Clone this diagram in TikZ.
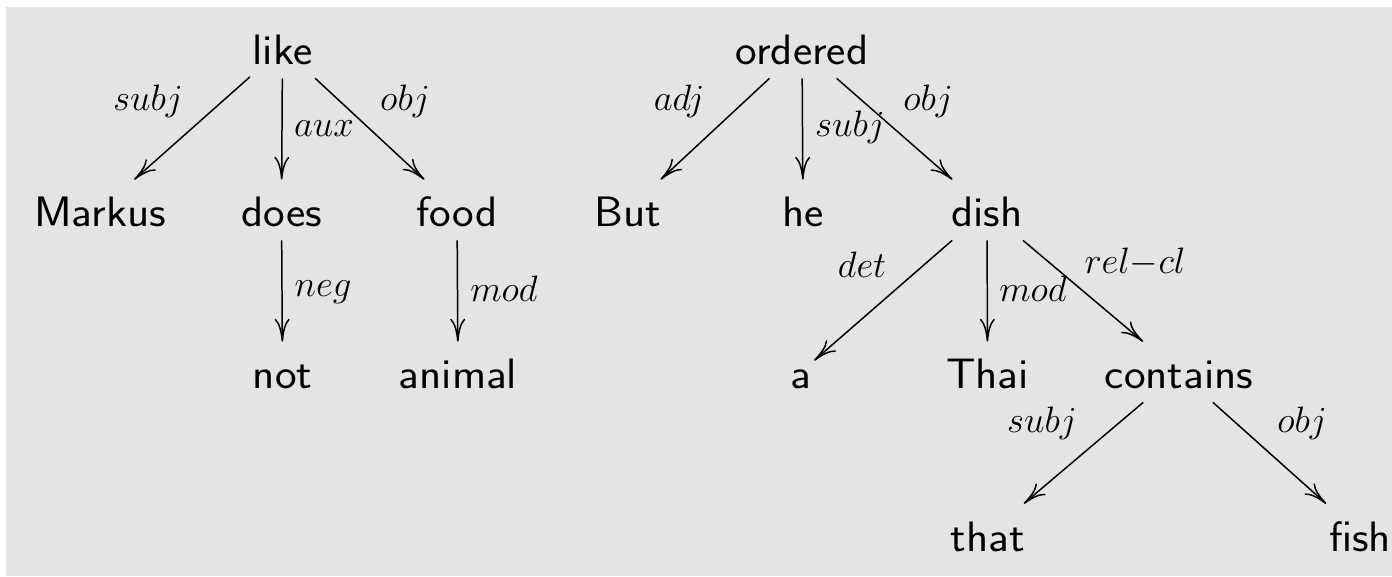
\RequirePackage{fix-cm}
\documentclass[tikz,border=0pt]{standalone}
\usepackage{amsmath}
\usepackage{fontspec}
\newfontfamily\wordfont[FakeStretch=1.08]{Latin Modern Sans}
\usepackage{tikz}
\usetikzlibrary{arrows.meta}
\definecolor{bggray}{RGB}{228,228,228}

\begin{document}
\begin{tikzpicture}[word/.style={anchor=base, inner sep=0.05cm, text height=0.89cm, text depth=0.21cm, font=\wordfont\fontsize{24.2}{29}\selectfont},
  lab/.style={anchor=base, inner sep=0pt, font=\fontsize{20.9}{24}\selectfont},
  dep/.style={-{To[length=13pt,width=8.5pt]}, line width=0.85pt}]
\useasboundingbox (0,0) rectangle (27.84,11.52);
\fill [bggray] (0.12,0) rectangle (27.84,11.38);

% first tree
\node [word] (like) at (5.65,10.22) {like};
\node [word] (markus) at (2.0,6.98) {Markus};
\node [word] (does) at (5.63,6.98) {does};
\node [word] (food) at (9.14,6.98) {food};
\node [word] (not) at (5.65,3.74) {not};
\node [word] (animal) at (9.16,3.74) {animal};

\draw [dep] (like) -- (markus);
\draw [dep] (like) -- (does);
\draw [dep] (like) -- (food);
\draw [dep] (does) -- (not);
\draw [dep] (food) -- (animal);

\node [lab] (l-subj) at (2.96,9.30) {$subj$};
\node [lab] (l-aux) at (6.48,8.78) {$aux$};
\node [lab] (l-obj) at (8.10,9.30) {$obj$};
\node [lab] (l-neg) at (6.46,5.58) {$neg$};
\node [lab] (l-mod) at (10.08,5.48) {$mod$};

% second tree
\node [word] (ordered) at (16.04,10.22) {ordered};
\node [word] (but) at (12.56,6.98) {But};
\node [word] (he) at (16.06,6.98) {he};
\node [word] (dish) at (19.74,6.98) {dish};
\node [word] (a) at (16.02,3.74) {a};
\node [word] (thai) at (19.75,3.74) {Thai};
\node [word] (contains) at (23.58,3.74) {contains};
\node [word] (that) at (19.76,0.50) {that};
\node [word] (fish) at (27.2,0.50) {fish};

\draw [dep] (ordered) -- (but);
\draw [dep] (ordered) -- (he);
\draw [dep] (ordered) -- (dish);
\draw [dep] (dish) -- (a);
\draw [dep] (dish) -- (thai);
\draw [dep] (dish) -- (contains);
\draw [dep] (contains) -- (that);
\draw [dep] (contains) -- (fish);

\node [lab] (l-adj) at (13.58,9.30) {$adj$};
\node [lab] (l-subj2) at (17.0,8.78) {$subj$};
\node [lab] (l-obj2) at (18.56,9.30) {$obj$};
\node [lab] (l-det) at (17.24,5.96) {$det$};
\node [lab] (l-mod2) at (20.66,5.48) {$mod$};
\node [lab] (l-relcl) at (22.70,6.04) {$rel{-}cl$};
\node [lab] (l-subj3) at (20.84,2.86) {$subj$};
\node [lab] (l-obj3) at (26.04,2.86) {$obj$};
\end{tikzpicture}
\end{document}
